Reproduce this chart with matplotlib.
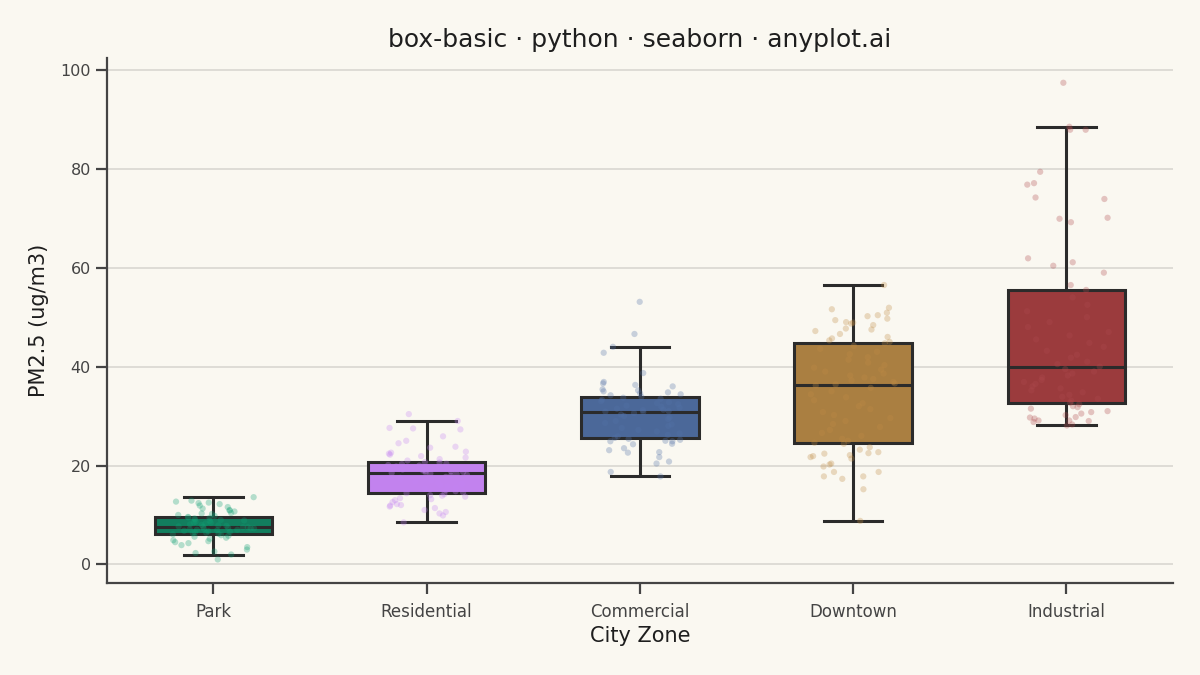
import numpy as np
import pandas as pd
import matplotlib
matplotlib.use("Agg")
import matplotlib.pyplot as plt
import seaborn as sns

# PM2.5 readings per zone (ug/m3)
zones = ["Park", "Residential", "Commercial", "Downtown", "Industrial"]

park = [1.0, 2.0, 2.3, 2.6, 3.0, 3.5, 3.9, 4.3, 4.5, 4.7, 4.9, 5.2, 5.4, 5.6, 5.8, 5.9, 6.1,
        6.2,
        6.3, 6.4, 6.5, 6.6, 6.7, 6.8, 6.9, 7.0, 7.0, 7.1, 7.2, 7.3, 7.3, 7.4, 7.5, 7.5,
        7.6,
        7.7, 7.8, 7.9, 8.0, 8.1, 8.3, 8.4, 8.5, 8.6, 8.8, 8.9, 9.0, 9.1, 9.3, 9.4, 9.5,
        9.6,
        9.8, 10.0, 10.2, 10.3, 10.4, 10.7, 10.9, 11.0, 11.3, 11.6, 11.9, 12.2, 12.4, 12.5, 12.7, 12.9, 13.6]

residential = [8.5, 9.9, 10.3, 10.6, 11.0, 11.4, 11.7, 11.9, 12.0, 12.2, 12.6, 13.0, 13.2, 13.4, 13.7, 13.9, 14.0, 14.2,
               14.4,
               14.6, 14.8, 15.0, 15.3, 15.5, 15.8, 16.0, 16.3, 16.5, 16.8, 17.0, 17.3, 17.5, 17.7, 17.9, 18.1, 18.3,
               18.4,
               18.5, 18.6, 18.7, 18.8, 18.9, 19.0, 19.2, 19.3, 19.4, 19.6, 19.7, 19.8, 20.0, 20.1, 20.3, 20.4, 20.6,
               20.7,
               21.0, 21.3, 21.6, 21.9, 22.2, 22.4, 22.6, 22.8, 23.6, 23.8, 24.5, 25.0, 25.9, 27.3, 27.5, 27.6, 29.0, 30.4]

commercial = [17.8, 18.7, 20.4, 20.8, 21.7, 22.6, 22.7, 23.1, 23.5, 24.3, 24.4, 24.9, 24.9, 25.0, 25.2, 25.4,
              25.6,
              25.9, 26.2, 26.5, 26.9, 27.2, 27.6, 28.0, 28.3, 28.6, 29.0, 29.4, 29.7, 30.0, 30.3, 30.6,
              30.8,
              30.9, 31.0, 31.2, 31.3, 31.5, 31.7, 31.9, 32.1, 32.4, 32.6, 32.8, 33.0, 33.3, 33.5, 33.7,
              33.9,
              34.2, 34.4, 34.6, 34.8, 35.0, 35.2, 35.4, 36.0, 36.3, 36.6, 36.9, 38.7, 42.8, 44.0, 46.6, 53.1]

downtown = [8.8, 15.2, 17.3, 17.8, 17.8, 18.7, 18.7, 19.8, 20.2, 20.4, 21.4, 21.7, 21.9, 22.1, 22.4, 22.5, 22.7, 23.2, 23.7, 24.4,
            24.6,
            25.0, 25.4, 26.0, 26.6, 27.2, 27.8, 28.4, 29.0, 29.6, 30.2, 30.8, 31.4, 32.0, 32.6, 33.2, 33.8, 34.4, 35.0, 35.7,
            36.2,
            36.4, 36.6, 36.9, 37.2, 37.5, 37.8, 38.2, 38.6, 39.0, 39.4, 39.8, 40.3, 40.8, 41.4, 41.9, 42.5, 43.0, 43.6, 44.2,
            44.7,
            45.0, 45.3, 45.7, 46.0, 46.6, 47.2, 47.5, 47.7, 48.4, 48.7, 48.9, 49.0, 49.4, 49.7, 50.2, 50.4, 50.9, 51.6, 51.9, 56.5]

industrial = [28.1, 28.3, 28.8, 29.0, 29.1, 29.1, 29.5, 29.7, 29.8, 30.2, 30.5, 30.8, 31.0, 31.5, 31.8, 32.0, 32.4,
              32.7,
              33.1, 33.5, 33.9, 34.3, 34.8, 35.2, 35.6, 36.0, 36.5, 36.9, 37.3, 37.8, 38.2, 38.6, 39.0, 39.5,
              40.0,
              40.5, 41.0, 41.8, 42.4, 43.2, 44.0, 44.8, 45.5, 46.3, 47.0, 48.0, 49.0, 50.0, 51.2, 52.5, 54.0,
              55.5,
              56.5, 59.0, 60.4, 61.1, 61.9, 69.2, 69.9, 70.1, 73.9, 74.2, 76.8, 77.1, 79.4, 87.9, 87.9, 88.5, 97.4]

box_colors = ["#127E5E", "#C282EE", "#4B6899", "#AA7F41", "#9B3B3D"]
dot_colors = ["#10A074", "#C585F2", "#5372A8", "#C08C45", "#AE4A4E"]

df = pd.DataFrame({
    "zone": np.repeat(zones, [len(park), len(residential), len(commercial), len(downtown), len(industrial)]),
    "pm25": park + residential + commercial + downtown + industrial,
})

bg = "#FAF8F1"
ink = "#2B2B2B"
plt.rcParams["font.family"] = ["DejaVu Sans"]

fig = plt.figure(figsize=(12, 6.75), dpi=100, facecolor=bg)
ax = fig.add_axes([0.089, 0.136, 0.8885, 0.778])
ax.set_facecolor(bg)

sns.boxplot(data=df, x="zone", y="pm25", hue="zone", order=zones, hue_order=zones,
            palette=box_colors, saturation=1, width=0.55, showfliers=False, legend=False,
            linewidth=2.2, linecolor=ink, ax=ax, zorder=2)

np.random.seed(3)
sns.stripplot(data=df, x="zone", y="pm25", hue="zone", order=zones, hue_order=zones,
              palette=dot_colors, jitter=0.2, size=4.5, alpha=0.3, linewidth=0,
              legend=False, ax=ax, zorder=3)

ax.set_xlim(-0.5, 4.5)
ax.set_ylim(-3.8, 102.4)
ax.set_yticks([0, 20, 40, 60, 80, 100])
ax.grid(axis="y", color="#D6D4CE", linewidth=1.1, zorder=0)
ax.set_axisbelow(True)

for side in ["top", "right"]:
    ax.spines[side].set_visible(False)
for side in ["left", "bottom"]:
    ax.spines[side].set_color("#444444")
    ax.spines[side].set_linewidth(1.6)

ax.tick_params(axis="both", length=8, width=1.6, color="#444444", labelcolor="#444444")
ax.tick_params(axis="x", pad=6, labelsize=12)
ax.tick_params(axis="y", labelsize=11.5)

ax.set_title("box-basic · python · seaborn · anyplot.ai", fontsize=18, color="#1E1E1E", pad=8)
ax.set_xlabel("City Zone", fontsize=15, color="#1E1E1E", labelpad=4)
ax.set_ylabel("PM2.5 (ug/m3)", fontsize=15, color="#1E1E1E", labelpad=8)

fig.savefig("out.png", dpi=100, facecolor=bg)
